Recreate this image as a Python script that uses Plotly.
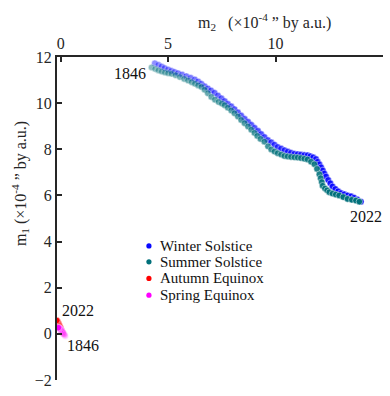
import plotly.graph_objects as go

# Winter Solstice (m2, m1), 1846 -> 2022
winter_m2 = [4.38, 4.55, 4.70, 4.84, 5.00, 5.15, 5.30, 5.46, 5.65, 5.85, 6.05, 6.24, 6.40, 6.55, 6.70,
             6.85, 7.00, 7.16, 7.32, 7.48, 7.63, 7.78, 7.94, 8.09, 8.25, 8.40, 8.56, 8.72, 8.87, 9.02,
             9.18, 9.33, 9.48, 9.64, 9.80, 9.95, 10.10, 10.26, 10.42, 10.57, 10.72, 10.88, 11.03, 11.18,
             11.34, 11.49, 11.62, 11.75, 11.88, 11.96, 12.04, 12.12, 12.20, 12.27, 12.35, 12.45, 12.55,
             12.65, 12.78, 12.91, 13.04, 13.20, 13.35, 13.51, 13.65, 13.80, 13.97]
winter_m1 = [11.73, 11.66, 11.59, 11.52, 11.46, 11.40, 11.35, 11.30, 11.24, 11.17, 11.10, 11.03, 10.94,
             10.84, 10.73, 10.64, 10.55, 10.45, 10.33, 10.21, 10.09, 9.97, 9.86, 9.74, 9.60, 9.46, 9.32,
             9.19, 9.06, 8.93, 8.80, 8.66, 8.53, 8.40, 8.30, 8.20, 8.10, 8.03, 7.96, 7.90, 7.85, 7.81,
             7.79, 7.77, 7.75, 7.74, 7.70, 7.65, 7.58, 7.46, 7.35, 7.22, 7.08, 6.95, 6.82, 6.67, 6.53,
             6.39, 6.28, 6.18, 6.10, 6.05, 6.00, 5.96, 5.90, 5.82, 5.73]

# Summer Solstice
summer_m2 = [4.23, 4.40, 4.55, 4.70, 4.85, 5.00, 5.16, 5.35, 5.55, 5.75, 5.93, 6.10, 6.25, 6.40, 6.55,
             6.70, 6.85, 7.01, 7.18, 7.35, 7.50, 7.63, 7.78, 7.94, 8.09, 8.25, 8.40, 8.56, 8.72, 8.87,
             9.02, 9.15, 9.30, 9.48, 9.65, 9.80, 9.95, 10.10, 10.26, 10.41, 10.56, 10.72, 10.88, 11.03,
             11.18, 11.34, 11.49, 11.65, 11.81, 11.93, 12.04, 12.10, 12.15, 12.19, 12.30, 12.40, 12.50,
             12.65, 12.80, 12.96, 13.15, 13.35, 13.55, 13.74, 13.90]
summer_m1 = [11.55, 11.48, 11.42, 11.37, 11.33, 11.30, 11.27, 11.21, 11.13, 11.05, 10.98, 10.91, 10.84,
             10.77, 10.70, 10.58, 10.43, 10.27, 10.15, 10.05, 9.98, 9.91, 9.80, 9.68, 9.56, 9.42, 9.27,
             9.13, 8.99, 8.85, 8.71, 8.58, 8.45, 8.33, 8.13, 7.99, 7.90, 7.83, 7.77, 7.71, 7.69, 7.67,
             7.65, 7.64, 7.62, 7.59, 7.56, 7.46, 7.35, 7.15, 6.92, 6.75, 6.58, 6.42, 6.30, 6.22, 6.14,
             6.08, 6.04, 6.00, 5.93, 5.85, 5.81, 5.78, 5.73]

# Autumn Equinox
autumn_m2 = [0.10, 0.08, 0.06, 0.04, 0.02, 0.00, -0.03, -0.06, -0.09, -0.12, -0.15, -0.18]
autumn_m1 = [0.02, 0.06, 0.10, 0.15, 0.20, 0.25, 0.31, 0.37, 0.43, 0.49, 0.54, 0.58]

# Spring Equinox
spring_m2 = [0.22, 0.19, 0.16, 0.13, 0.10, 0.07, 0.04, 0.01, -0.03, -0.07, -0.10]
spring_m1 = [-0.10, -0.06, -0.02, 0.02, 0.06, 0.10, 0.14, 0.18, 0.22, 0.25, 0.27]

series_names = ["Winter Solstice", "Summer Solstice", "Autumn Equinox", "Spring Equinox"]
x_ticks = [0, 5, 10, 15]
y_ticks = [-2, 0, 2, 4, 6, 8, 10, 12]

FONT = "Liberation Serif, Times New Roman, serif"
AX = "#262626"
colors = ["#0808ff", "#00707a", "#ff0000", "#ff00ff"]
min_op = [0.45, 0.45, 0.15, 0.15]

fig = go.Figure()
data = [(winter_m2, winter_m1), (summer_m2, summer_m1), (autumn_m2, autumn_m1), (spring_m2, spring_m1)]
for name, (xs, ys), col, mo in zip(series_names, data, colors, min_op):
    n = len(xs)
    ops = [mo + (1 - mo) * i / (n - 1) for i in range(n)]
    fig.add_trace(go.Scatter(
        x=xs, y=ys, mode="markers", name=name, showlegend=False,
        marker=dict(color=col, size=6.5, opacity=ops,
                    line=dict(color="rgba(255,255,255,0.7)", width=0.7)),
    ))

fig.update_layout(
    width=390, height=396,
    margin=dict(l=57, r=7, t=57, b=12),
    paper_bgcolor="white", plot_bgcolor="white",
    font=dict(family=FONT, size=16, color=AX),
    showlegend=False,
    xaxis=dict(side="top", range=[-0.17, 15], tickvals=x_ticks, showgrid=False, zeroline=False,
               showline=True, linecolor=AX, linewidth=2, ticks="inside", ticklen=5,
               tickcolor=AX, tickwidth=1.5, tickfont=dict(family=FONT, size=16, color=AX)),
    yaxis=dict(range=[-2, 12], tickvals=y_ticks, showgrid=False, zeroline=False,
               showline=True, linecolor=AX, linewidth=2, ticks="inside", ticklen=5,
               tickcolor=AX, tickwidth=1.5, tickfont=dict(family=FONT, size=16, color=AX)),
)

# manual legend
leg_y = [0.415, 0.366, 0.3145, 0.2626]
for name, col, ly in zip(series_names, colors, leg_y):
    fig.add_shape(type="circle", xref="paper", yref="paper", xsizemode="pixel", ysizemode="pixel",
                  xanchor=0.282, yanchor=ly, x0=-2.6, x1=2.6, y0=-2.6, y1=2.6,
                  fillcolor=col, line=dict(width=0))
    fig.add_annotation(x=0.31, y=ly, xref="paper", yref="paper", xanchor="left", yanchor="middle",
                       text=name, showarrow=False, font=dict(family=FONT, size=15, color="#111111"))

annots = [
    dict(x=3.22, y=11.28, text="1846"),
    dict(x=14.2, y=5.1, text="2022"),
    dict(x=0.81, y=1.03, text="2022"),
    dict(x=1.04, y=-0.51, text="1846"),
]
for a in annots:
    fig.add_annotation(x=a["x"], y=a["y"], text=a["text"], showarrow=False,
                       xref="x", yref="y", xanchor="center", yanchor="middle",
                       font=dict(family=FONT, size=16, color="#111111"))

fig.add_annotation(x=0.638, y=1.0, xref="paper", yref="paper", yshift=35,
                   xanchor="center", yanchor="middle",
                   text="m<sub>2</sub>   (×10<sup>-4</sup> ” by a.u.)", showarrow=False,
                   font=dict(family=FONT, size=16, color=AX))
fig.add_annotation(x=-0.113, y=0.607, xref="paper", yref="paper", textangle=-90,
                   xanchor="center", yanchor="middle",
                   text="m<sub>1</sub> (×10<sup>-4</sup> ” by a.u.)", showarrow=False,
                   font=dict(family=FONT, size=16, color=AX))

fig.write_html("out.html")
